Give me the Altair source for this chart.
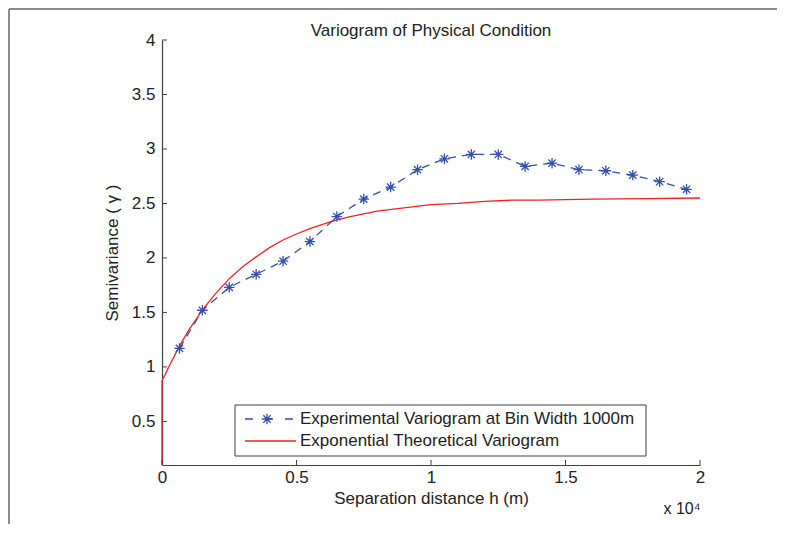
import altair as alt
import pandas as pd

# Experimental variogram (bin width 1000 m)
exp_h = [650, 1500, 2500, 3500, 4500, 5500, 6500, 7500, 8500, 9500,
         10500, 11500, 12500, 13500, 14500, 15500, 16500, 17500, 18500, 19500]
exp_gamma = [1.17, 1.52, 1.73, 1.85, 1.97, 2.15, 2.38, 2.54, 2.65, 2.81,
             2.91, 2.95, 2.95, 2.84, 2.87, 2.81, 2.80, 2.76, 2.70, 2.63]

# Exponential theoretical variogram
th_h = [0, 0, 50, 100, 250, 500, 750, 1000, 1250, 1500, 1750, 2000, 2500, 3000,
        3500, 4000, 4500, 5000, 5500, 6000, 6500, 7000, 8000, 9000, 10000,
        11000, 12000, 13000, 14000, 16000, 18000, 20000]
th_gamma = [0.10, 0.87, 0.90, 0.92, 1.00, 1.12, 1.235, 1.34, 1.43, 1.52, 1.60,
            1.675, 1.81, 1.92, 2.01, 2.095, 2.165, 2.22, 2.27, 2.31, 2.35, 2.38,
            2.43, 2.46, 2.49, 2.50, 2.52, 2.53, 2.53, 2.54, 2.545, 2.55]

x_ticks = [0, 5000, 10000, 15000, 20000]
y_ticks = [0.5, 1.0, 1.5, 2.0, 2.5, 3.0, 3.5, 4.0]

title_text = "Variogram of Physical Condition"
legend_labels = ["Experimental Variogram at Bin Width 1000m",
                 "Exponential Theoretical Variogram"]

FONT = "Liberation Sans"
FS = 17
BLUE = "#3450aa"
RED = "#ee2222"
AX = "#404040"
TXT = "#222222"
W, H = 538, 425
PAD = {"left": 154, "top": 32, "right": 78, "bottom": 60}

exp_df = pd.DataFrame({"h": exp_h, "g": exp_gamma})
th_df = pd.DataFrame({"h": th_h, "g": th_gamma, "i": list(range(len(th_h)))})
xt_df = pd.DataFrame({"h": x_ticks})
yt_df = pd.DataFrame({"g": y_ticks})
one = pd.DataFrame({"a": [0]})

xs = alt.Scale(domain=[0, 20000], nice=False, zero=False)
ys = alt.Scale(domain=[0.1, 4], nice=False, zero=False)

x_axis = alt.Axis(values=x_ticks, labelExpr="'' + datum.value / 10000",
                  title="Separation distance h (m)", grid=False, ticks=False,
                  domainColor=AX, labelColor=TXT, labelFont=FONT, labelFontSize=FS,
                  labelPadding=4, titleFont=FONT, titleFontSize=FS, titleFontWeight="normal",
                  titleColor=TXT, titlePadding=5, labelFlush=False)
y_axis = alt.Axis(values=y_ticks, labelExpr="'' + datum.value",
                  title="Semivariance ( γ )", grid=False, ticks=False,
                  domainColor=AX, labelColor=TXT, labelFont=FONT, labelFontSize=FS,
                  labelPadding=7, titleFont=FONT, titleFontSize=FS, titleFontWeight="normal",
                  titleColor=TXT, titlePadding=10, labelFlush=False)

STAR = "M0,-1L0,1M-1,0L1,0M-0.7,-0.7L0.7,0.7M-0.7,0.7L0.7,-0.7"

theory = alt.Chart(th_df).mark_line(color=RED, strokeWidth=1.3).encode(
    x=alt.X("h:Q", scale=xs, axis=x_axis), y=alt.Y("g:Q", scale=ys, axis=y_axis),
    order="i:Q")

exp_line = alt.Chart(exp_df).mark_line(color=BLUE, strokeWidth=1.3, strokeDash=[8, 6]).encode(
    x=alt.X("h:Q", scale=xs), y=alt.Y("g:Q", scale=ys))
exp_pts = alt.Chart(exp_df).mark_point(shape=STAR, size=110, color=BLUE, filled=False,
                                       strokeWidth=1.3, opacity=1).encode(
    x=alt.X("h:Q", scale=xs), y=alt.Y("g:Q", scale=ys))

# inward ticks
xticks = alt.Chart(xt_df).mark_rule(color=AX, strokeWidth=1).encode(
    x=alt.X("h:Q", scale=xs), y=alt.value(H), y2=alt.value(H - 5))
yticks = alt.Chart(yt_df).mark_rule(color=AX, strokeWidth=1).encode(
    y=alt.Y("g:Q", scale=ys), x=alt.value(0), x2=alt.value(5))

# title
title = alt.Chart(pd.DataFrame({"t": [title_text]})).mark_text(
    font=FONT, fontSize=FS, color=TXT, align="center", baseline="middle").encode(
    text="t:N", x=alt.value(W / 2), y=alt.value(-9))

# multiplier text
mult = alt.Chart(pd.DataFrame({"t": ["x 10⁴"]})).mark_text(
    font=FONT, fontSize=FS - 1, color=TXT, align="center", baseline="middle").encode(
    text="t:N", x=alt.value(520), y=alt.value(469))

# legend
leg_box = alt.Chart(one).mark_rect(fill="white", stroke=AX, strokeWidth=1).encode(
    x=alt.value(73), x2=alt.value(484), y=alt.value(365), y2=alt.value(416))
leg_l1 = alt.Chart(one).mark_rule(color=BLUE, strokeWidth=1.3, strokeDash=[8, 12]).encode(
    x=alt.value(83), x2=alt.value(134), y=alt.value(379))
leg_p1 = alt.Chart(one).mark_point(shape=STAR, size=110, color=BLUE, filled=False,
                                   strokeWidth=1.3, opacity=1).encode(
    x=alt.value(105), y=alt.value(379))
leg_l2 = alt.Chart(one).mark_rule(color=RED, strokeWidth=1.3).encode(
    x=alt.value(83), x2=alt.value(134), y=alt.value(401))
leg_txt = alt.Chart(pd.DataFrame({"t": legend_labels, "yy": [379, 401]})).mark_text(
    font=FONT, fontSize=FS, color=TXT, align="left", baseline="middle").encode(
    text="t:N", x=alt.value(138), y=alt.Y("yy:Q", scale=None))

# outer frame: top and left edges only, kept inside the drawing
frame_top = alt.Chart(one).mark_rule(color="#666", strokeWidth=1.5).encode(
    x=alt.value(-153), x2=alt.value(W + PAD["right"] - 1), y=alt.value(-31))
frame_left = alt.Chart(one).mark_rule(color="#666", strokeWidth=1.5).encode(
    x=alt.value(-153), y=alt.value(-31), y2=alt.value(H + PAD["bottom"] - 1))

chart = alt.layer(
    theory, exp_line, exp_pts, xticks, yticks, title, mult,
    leg_box, leg_l1, leg_p1, leg_l2, leg_txt, frame_top, frame_left
).properties(
    width=W, height=H,
    autosize=alt.AutoSizeParams(type="none"),
    padding=PAD,
).configure_view(stroke=None).configure_axis(domainWidth=1.2)

chart.save("out.html", embed_options={"renderer": "svg", "actions": False})
